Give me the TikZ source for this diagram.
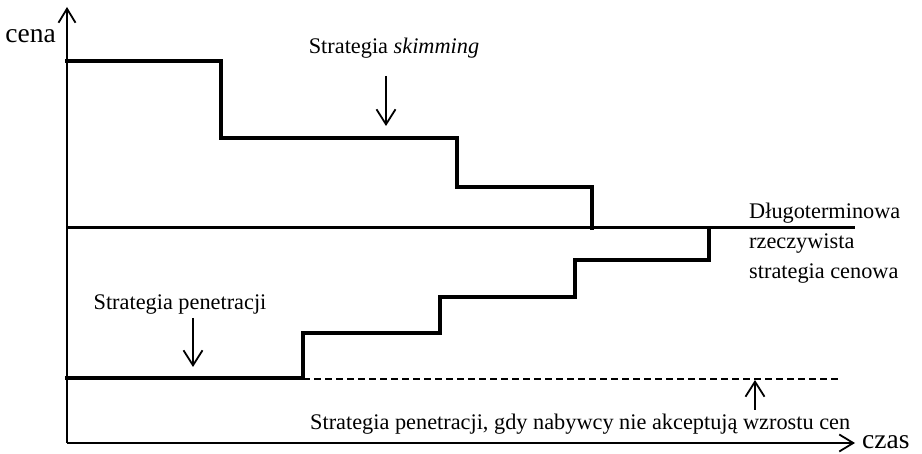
\documentclass[tikz,border=0pt]{standalone}
\usepackage{fontspec}
\setmainfont{Liberation Serif}
\usetikzlibrary{arrows.meta}
\begin{document}
\begin{tikzpicture}[x=1pt,y=-1pt,
  axis/.style={line width=1.8pt,-{Straight Barb[length=14pt,width=17pt,line width=1.8pt]}},
  stepline/.style={line width=3.8pt,line join=miter,line cap=rect},
  baseline price/.style={line width=3pt},
  fallback/.style={line width=2.4pt,dash pattern=on 7pt off 4pt},
  pointer/.style={line width=1.8pt,-{Straight Barb[length=15pt,width=19pt,line width=1.8pt]}},
  lbl/.style={inner sep=0pt,font=\fontsize{22.3}{30}\selectfont},
  axlbl/.style={inner sep=0pt,font=\fontsize{27.5}{30}\selectfont}]
\useasboundingbox (0,0) rectangle (922,454);

% axes
\coordinate (O) at (67,443);
\coordinate (ytip) at (67,7);
\coordinate (xtip) at (855,443);
\draw[axis] (O) -- (ytip);
\draw[axis] (O) -- (xtip);
\node[axlbl,anchor=base east] (cena) at (56,43) {cena};
\node[axlbl,anchor=base west] (czas) at (862,449) {czas};

% long-term price level
\coordinate (lt0) at (67,228);
\coordinate (lt1) at (855,228);
\draw[baseline price] (lt0) -- (lt1);

% skimming: price falls in steps
\coordinate (sk0) at (67,61);
\draw[stepline] (sk0) -- (221,61) -- (221,138) -- (457,138) -- (457,187)
  -- (592,187) -- (592,228);

% penetration: price rises in steps
\coordinate (pn0) at (67,378);
\draw[stepline] (pn0) -- (303,378) -- (303,333) -- (440,333) -- (440,297)
  -- (575,297) -- (575,260) -- (709,260) -- (709,228);

% penetration without accepted price rise
\coordinate (fb0) at (303,379);
\coordinate (fb1) at (838,379);
\draw[fallback] (fb0) -- (fb1);

% labels with pointers
\node[lbl,anchor=base] (skim) at (394,54) {Strategia \textit{skimming}};
\coordinate (skimtip) at (386,126);
\draw[pointer] (386,76) -- (skimtip);

\node[lbl,anchor=base] (pen) at (180,310) {Strategia penetracji};
\coordinate (pentip) at (193,367);
\draw[pointer] (193,318) -- (pentip);

\node[lbl,anchor=base west] (lt) at (749,219) {Długoterminowa};
\node[lbl,anchor=base west] (lt2) at (749,249) {rzeczywista};
\node[lbl,anchor=base west] (lt3) at (749,279) {strategia cenowa};

\node[lbl,anchor=base west] (fb) at (310,430) {Strategia penetracji, gdy nabywcy nie akceptują wzrostu cen};
\coordinate (fbtip) at (755,380);
\draw[pointer] (755,410) -- (fbtip);
\end{tikzpicture}
\end{document}
